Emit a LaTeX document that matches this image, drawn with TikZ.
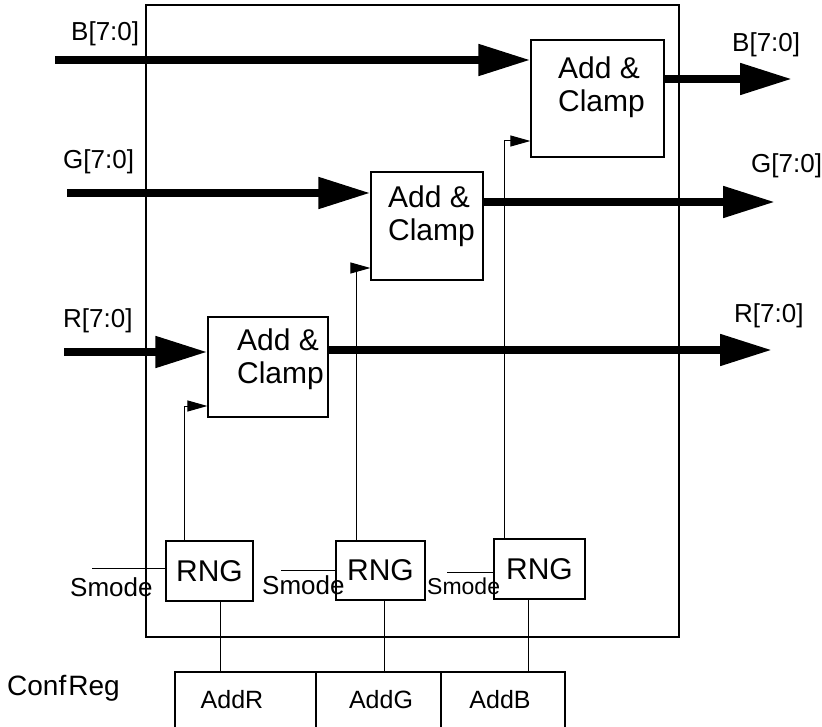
\documentclass[tikz,border=0pt]{standalone}
\usepackage{fontspec}
\setmainfont{Liberation Sans}
\usetikzlibrary{arrows.meta}

\tikzset{
  bus/.style={line width=8pt, -{Triangle[length=52pt, width=30pt]}},
  ctrl/.style={line width=1pt, -{Triangle[length=20pt, width=11pt]}},
  wire/.style={line width=1pt},
  blk/.style={draw, line width=1.2pt, inner sep=0pt},
  clamptxt/.style={align=left, inner sep=0pt, font=\fontsize{30}{33}\selectfont},
  rngbox/.style={blk, font=\fontsize{30}{32}\selectfont},
  sig/.style={anchor=base west, inner sep=0pt, font=\fontsize{26}{28}\selectfont},
  celltxt/.style={anchor=base, inner sep=0pt, font=\fontsize{25}{28}\selectfont},
}

\begin{document}
\begin{tikzpicture}[x=1pt, y=-1pt]
  \useasboundingbox (0,0) rectangle (822,727);
  % Boitier
  \node[blk, minimum width=533pt, minimum height=632pt] (chip) at (412.5,321) {};
  % Blocs Add & Clamp
  \node[blk, minimum width=133pt, minimum height=117pt] (addB) at (597.5,98.5) {};
  \node[blk, minimum width=112pt, minimum height=108pt] (addG) at (427,226) {};
  \node[blk, minimum width=120pt, minimum height=100pt] (addR) at (268,367) {};
  \node[clamptxt] (txtB) at (601.5,87.5)  {Add \&\\Clamp};
  \node[clamptxt] (txtG) at (431.5,216.5) {Add \&\\Clamp};
  \node[clamptxt] (txtR) at (280.5,359.5) {Add \&\\Clamp};
  % Generateurs RNG
  \node[rngbox, minimum width=87pt, minimum height=60pt] (rngR) at (209.5,571) {RNG};
  \node[rngbox, minimum width=89pt, minimum height=59pt] (rngG) at (380.5,570.5) {RNG};
  \node[rngbox, minimum width=91pt, minimum height=60pt] (rngB) at (539.5,569) {RNG};
  % Registre de config
  \node[blk, minimum width=141pt, minimum height=62pt] (regR) at (245.5,703) {};
  \node[blk, minimum width=125pt, minimum height=62pt] (regG) at (378.5,703) {};
  \node[blk, minimum width=124pt, minimum height=62pt] (regB) at (503,703) {};
  \node[celltxt] (lblR) at (232,708) {AddR};
  \node[celltxt] (lblG) at (381,708) {AddG};
  \node[celltxt] (lblB) at (500,708) {AddB};
  \node[sig, font=\fontsize{28}{30}\selectfont] (conf) at (7,695) {Conf\kern2pt Reg};
  % Bus d'entree et de sortie
  \coordinate (inB) at (55,60);   \coordinate (outB) at (792,79);
  \coordinate (inG) at (67,193);  \coordinate (outG) at (775,202);
  \coordinate (inR) at (64,352);  \coordinate (outR) at (772,350);
  \foreach \c in {B,G,R} {
    \draw[bus] (in\c) -- (in\c -| add\c.west);
    \draw[bus] (add\c.east |- out\c) -- (out\c);
  }
  \node[sig] (bL) at (71,41)   {B[7:0]};
  \node[sig] (gL) at (63,169)  {G[7:0]};
  \node[sig] (rL) at (63,327)  {R[7:0]};
  \node[sig] (bR) at (732,52)  {B[7:0]};
  \node[sig] (gR) at (751,173) {G[7:0]};
  \node[sig] (rR) at (734,323) {R[7:0]};
  % Liaisons RNG -> Add & Clamp
  \coordinate (ctlR) at (184,406);
  \coordinate (ctlG) at (356,268);
  \coordinate (ctlB) at (504,141);
  \foreach \c in {R,G,B}
    \draw[ctrl] (rng\c.north -| ctl\c) |- (add\c.west |- ctl\c);
  % Liaisons registre -> RNG
  \coordinate (tapR) at (220,0);
  \coordinate (tapG) at (384,0);
  \coordinate (tapB) at (528,0);
  \foreach \c in {R,G,B}
    \draw[wire] (rng\c.south -| tap\c) -- (reg\c.north -| tap\c);
  % Entrees Smode
  \coordinate (smR) at (92,568);
  \coordinate (smG) at (281,570);
  \coordinate (smB) at (447,572);
  \foreach \c in {R,G,B}
    \draw[wire] (sm\c) -- (sm\c -| rng\c.west);
  \node[sig] (smodeR) at (70,596)  {Smode};
  \node[sig] (smodeG) at (262,594) {Smode};
  \node[sig, font=\fontsize{23}{25}\selectfont] (smodeB) at (427,594) {Smode};
\end{tikzpicture}
\end{document}
